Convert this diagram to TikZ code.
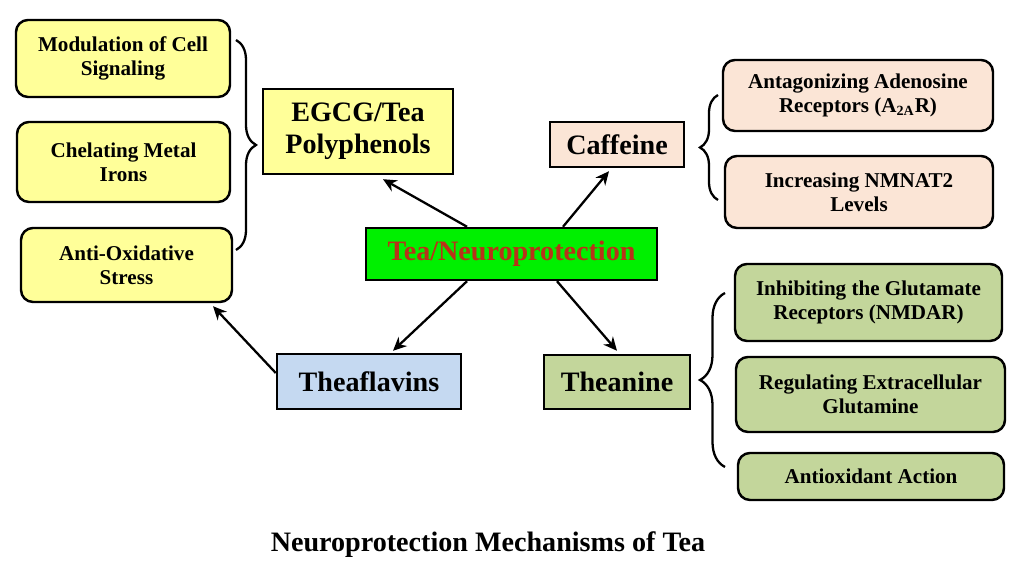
\documentclass[tikz,border=0pt]{standalone}
\usepackage{fontspec}
\setmainfont{Liberation Serif}
\usetikzlibrary{arrows.meta}
\usetikzlibrary{decorations.pathreplacing}
\usetikzlibrary{positioning}

\definecolor{pyellow}{RGB}{255,255,153}
\definecolor{ppeach}{RGB}{251,229,214}
\definecolor{pblue}{RGB}{197,217,241}
\definecolor{pgreen}{RGB}{195,214,155}
\definecolor{hubgreen}{RGB}{0,240,0}
\definecolor{hubtext}{RGB}{185,50,25}

\tikzset{
  leaf/.style={draw=black,line width=1.4pt,rounded corners=0.24cm,align=center,
    font=\fontsize{12}{13.5}\selectfont\bfseries,inner sep=2pt},
  group/.style={draw=black,line width=1.4pt,align=center,
    font=\fontsize{16}{18}\selectfont\bfseries,inner sep=2pt},
  arr/.style={-{Stealth[length=2.7mm,width=2.5mm]},line width=1.3pt},
  brc/.style={decorate,decoration={brace,amplitude=#1},line width=1.3pt},
}

\begin{document}
\begin{tikzpicture}
\useasboundingbox[fill=white] (0,0) rectangle (20.48,11.44);

% centre
\node[group,fill=hubgreen,text=hubtext,minimum width=5.82cm,minimum height=1.04cm] (hub) at (10.23,6.36) {Tea/Neuroprotection};

% EGCG branch
\node[group,fill=pyellow,minimum width=3.80cm,minimum height=1.70cm] (egcg) at (7.16,8.81) {EGCG/Tea\\Polyphenols};
\node[leaf,fill=pyellow,minimum width=4.28cm,minimum height=1.54cm] (signal) at (2.46,10.27) {Modulation of Cell\\Signaling};
\node[leaf,fill=pyellow,minimum width=4.26cm,minimum height=1.60cm] (chelate) at (2.47,8.20) {Chelating Metal\\Irons};
\node[leaf,fill=pyellow,minimum width=4.22cm,minimum height=1.48cm] (antiox) at (2.53,6.14) {Anti-Oxidative\\Stress};
\draw[brc=0.4cm] (4.72,10.64) -- (4.72,6.44);

% caffeine branch
\node[group,fill=ppeach,minimum width=2.68cm,minimum height=0.90cm] (caff) at (12.34,8.55) {Caffeine};
\node[leaf,fill=ppeach,minimum width=5.40cm,minimum height=1.42cm] (adeno) at (17.16,9.53) {Antagonizing Adenosine\\Receptors (A\textsubscript{2A}R)};
\node[leaf,fill=ppeach,minimum width=5.36cm,minimum height=1.44cm] (nmnat) at (17.18,7.60) {Increasing NMNAT2\\Levels};
\draw[brc=0.36cm] (14.36,7.44) -- (14.36,9.54);

% theaflavins
\node[group,fill=pblue,minimum width=3.68cm,minimum height=1.10cm] (thfl) at (7.38,3.81) {Theaflavins};

% theanine branch
\node[group,fill=pgreen,minimum width=2.92cm,minimum height=1.08cm] (than) at (12.34,3.80) {Theanine};
\node[leaf,fill=pgreen,minimum width=5.34cm,minimum height=1.54cm] (nmdar) at (17.37,5.39) {Inhibiting the Glutamate\\Receptors (NMDAR)};
\node[leaf,fill=pgreen,minimum width=5.38cm,minimum height=1.50cm] (glut) at (17.41,3.55) {Regulating Extracellular\\Glutamine};
\node[leaf,fill=pgreen,minimum width=5.32cm,minimum height=0.94cm] (aoxact) at (17.42,1.91) {Antioxidant Action};
\draw[brc=0.5cm] (14.5,2.1) -- (14.5,5.58);

% arrows
\draw[arr] ([xshift=-0.89cm]hub.north) -- ([xshift=0.5cm,yshift=-0.08cm]egcg.south);
\draw[arr] ([xshift=1.03cm]hub.north) -- ([xshift=-0.16cm,yshift=-0.06cm]caff.south);
\draw[arr] ([xshift=-0.89cm]hub.south) -- ([xshift=0.48cm,yshift=0.04cm]thfl.north);
\draw[arr] ([xshift=0.91cm]hub.south) -- ([yshift=0.06cm]than.north);
\draw[arr] ([yshift=0.17cm]thfl.west) -- ([xshift=1.73cm,yshift=-0.06cm]antiox.south);

\node[font=\fontsize{16}{18}\selectfont\bfseries] (title) at (9.76,0.54) {Neuroprotection Mechanisms of Tea};
\end{tikzpicture}
\end{document}
